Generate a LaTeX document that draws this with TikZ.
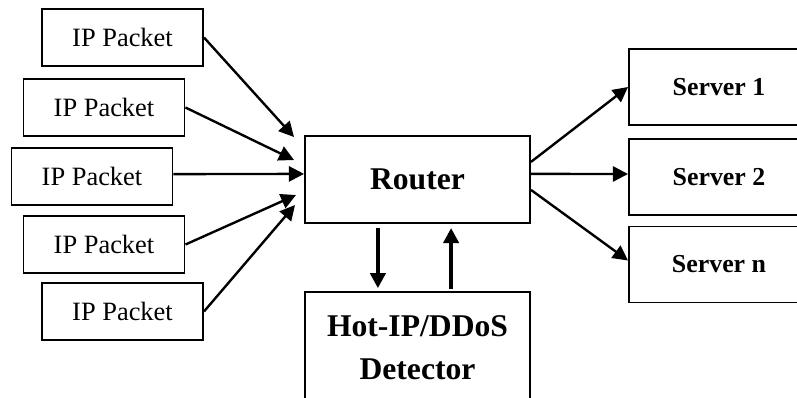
\documentclass[tikz,border=0pt]{standalone}
\usepackage{fontspec}
\setmainfont{Liberation Serif}
\usetikzlibrary{arrows.meta}

\tikzset{
  packet/.style={draw, line width=1.4pt, minimum width=4.025cm, minimum height=1.425cm,
    inner sep=0pt, font=\fontsize{18.8}{22}\selectfont},
  bigbox/.style={draw, line width=1.4pt, minimum width=5.625cm, inner sep=0pt,
    align=center, font=\fontsize{22.5}{30.5}\selectfont\bfseries},
  srvbox/.style={draw, line width=1.4pt, minimum width=4.5cm, minimum height=1.9cm,
    inner sep=0pt, font=\fontsize{18.4}{22}\selectfont\bfseries},
  flow/.style={line width=1.7pt, -{Triangle[length=10.7pt,width=10.7pt]}},
  ctrl/.style={line width=2.8pt, -{Triangle[length=10.7pt,width=10.7pt]}}
}

\begin{document}
\begin{tikzpicture}

% ============================================================
% Frame: 797 x 397 px, 1px = 0.025cm, origin top-left
% ============================================================
\clip (0,0) rectangle (19.925,-9.925);

% IP packets (left column)
\node[packet] (pkt1) at (3.0625,-0.9375) {IP Packet};
\node[packet] (pkt2) at (2.6,-2.6875) {IP Packet};
\node[packet] (pkt3) at (2.3,-4.4125) {IP Packet};
\node[packet] (pkt4) at (2.6,-6.1125) {IP Packet};
\node[packet] (pkt5) at (3.0625,-7.7875) {IP Packet};

% Router and detector
\node[bigbox, minimum height=2.175cm] (router) at (10.4375,-4.4875) {Router};
\node[bigbox, minimum height=2.8cm, anchor=north] (detector) at (10.4375,-7.275)
  {Hot-IP/DDoS\\Detector};

% Servers (right column, cut off by the frame)
\node[srvbox] (srv1) at (17.975,-2.175) {Server 1};
\node[srvbox] (srv2) at (17.975,-4.425) {Server 2};
\node[srvbox] (srvn) at (17.975,-6.6125) {Server n};

% Ends of the incoming arrows
\coordinate (in1) at ([xshift=-0.25cm,yshift=-0.05cm]router.north west);
\coordinate (in2) at ([xshift=-0.25cm,yshift=-0.625cm]router.north west);
\coordinate (in3) at ([yshift=0.14cm]router.west);
\coordinate (in4) at ([xshift=-0.2cm,yshift=-1.5cm]router.north west);
\coordinate (in5) at ([xshift=-0.225cm,yshift=-1.75cm]router.north west);

\draw[flow] (pkt1.east) -- (in1);
\draw[flow] (pkt2.east) -- (in2);
\draw[flow] ([yshift=0.06cm]pkt3.east) -- (in3);
\draw[flow] (pkt4.east) -- (in4);
\draw[flow] (pkt5.east) -- (in5);

% Outgoing arrows to the servers
\coordinate (out1) at ([yshift=0.44cm]router.east);
\coordinate (out2) at ([yshift=0.14cm]router.east);
\coordinate (outn) at ([yshift=-0.26cm]router.east);

\draw[flow] (out1) -- (srv1.west);
\draw[flow] (out2) -- ([yshift=0.075cm]srv2.west);
\draw[flow] (outn) -- ([yshift=0.1cm]srvn.west);

% Router <-> detector
\draw[ctrl, shorten <=0.1cm, shorten >=0.07cm]
  ([xshift=-0.99cm]router.south) -- ([xshift=-0.99cm]detector.north);
\draw[ctrl, shorten <=0.05cm, shorten >=0.1cm]
  ([xshift=0.84cm]detector.north) -- ([xshift=0.84cm]router.south);

\end{tikzpicture}
\end{document}
